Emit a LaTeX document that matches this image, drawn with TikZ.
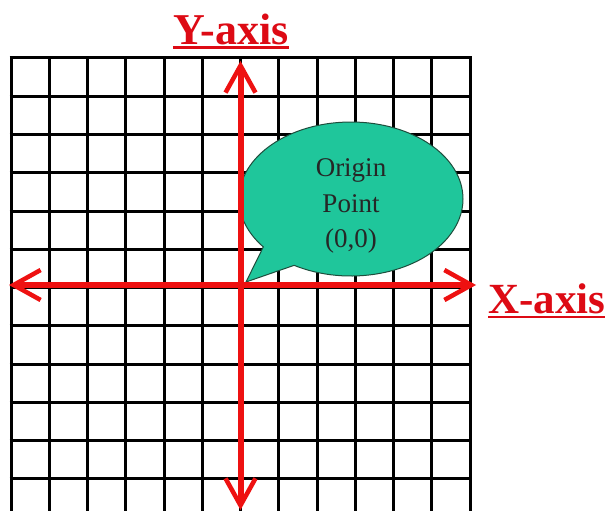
\documentclass[tikz,border=0pt]{standalone}
\usepackage{fontspec}
\setmainfont{Liberation Serif}
\usetikzlibrary{arrows.meta,shapes.callouts}
\definecolor{axred}{HTML}{EE1111}
\definecolor{labred}{HTML}{DD0A14}
\definecolor{bubble}{HTML}{1FC69B}
\definecolor{bubbleline}{HTML}{1E4D3C}
\tikzset{
  gridline/.style={line width=3pt, black},
  axisline/.style={line width=6pt, axred,
    {Straight Barb[length=27pt,width=30pt,line width=4.5pt]}-{Straight Barb[length=27pt,width=30pt,line width=4.5pt]}},
  axlabel/.style={text=labred, font=\fontsize{43}{46}\selectfont\bfseries, inner sep=0pt, anchor=base},
  uline/.style={line width=2.5pt, labred},
  bubblebox/.style={ellipse callout, draw=bubbleline, line width=1pt, fill=bubble,
    minimum width=224pt, minimum height=154pt, inner sep=0pt, callout pointer arc=21},
  bubbletext/.style={align=center, text=black!85, font=\fontsize{27}{35.5}\selectfont, inner sep=0pt}
}
\begin{document}
\begin{tikzpicture}[x=1pt,y=-1pt]
\useasboundingbox[fill=white] (0,0) rectangle (610,511);
% grid
\foreach \i in {0,...,12} {
  \draw[gridline] ({11+38.25*\i},58) -- ({11+38.25*\i},511);
}
\foreach \j in {0,...,11} {
  \draw[gridline] (9.5,{58+38.25*\j}) -- (471.5,{58+38.25*\j});
}
% callout
\node[bubblebox, callout absolute pointer={(246,282)}] (bubble) at (351,199) {};
\node[bubbletext] (btext) at (351,206) {Origin\\Point\\(0,0)};
% axes
\coordinate (xl) at (9,285);
\coordinate (xr) at (476,285);
\coordinate (yt) at (240.5,61);
\coordinate (yb) at (240.5,510);
\draw[axisline] (xl) -- (xr);
\draw[axisline] (yb) -- (yt);
% labels
\node[axlabel, font=\fontsize{44}{46}\selectfont\bfseries] (ylab) at (231,45) {Y-axis};
\draw[uline] ([yshift=-2.5pt]ylab.base west) -- ([yshift=-2.5pt]ylab.base east);
\node[axlabel, anchor=base west] (xlab) at (488,313) {X-axis};
\draw[uline] ([yshift=-4pt]xlab.base west) -- ([yshift=-4pt]xlab.base east);
\end{tikzpicture}
\end{document}
